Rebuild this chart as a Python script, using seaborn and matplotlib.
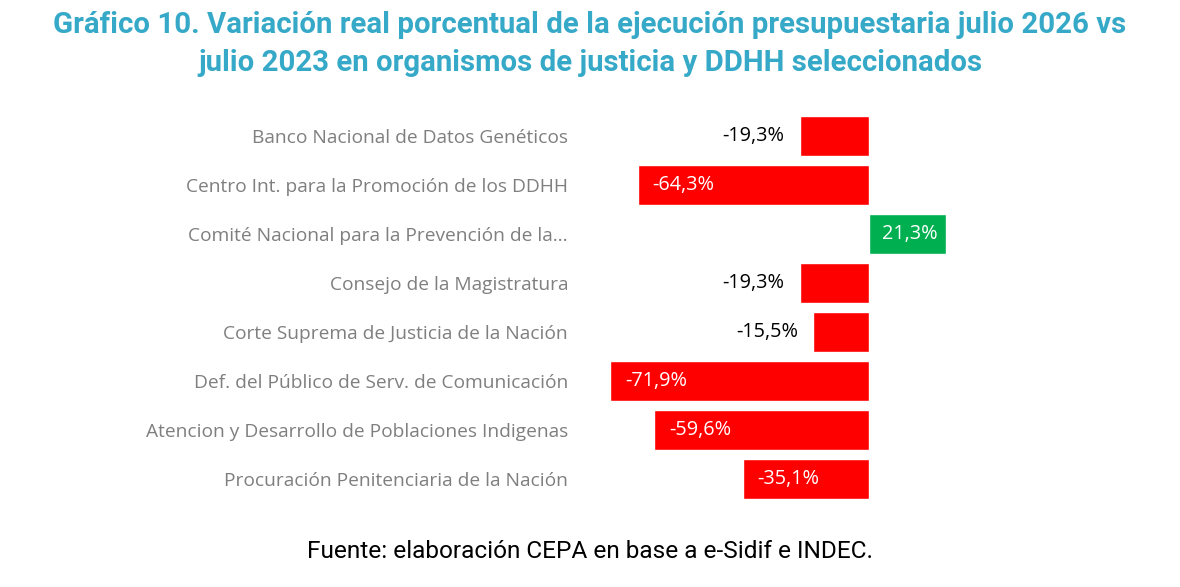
import numpy as np
import pandas as pd
import matplotlib
matplotlib.use('Agg')
import matplotlib.pyplot as plt
import seaborn as sns

# ============================================
# Data
# ============================================
CATEGORIES = [
    'Banco Nacional de Datos Genéticos',
    'Centro Int. para la Promoción de los DDHH',
    'Comité Nacional para la Prevención de la…',
    'Consejo de la Magistratura',
    'Corte Suprema de Justicia de la Nación',
    'Def. del Público de Serv. de Comunicación',
    'Atencion y Desarrollo de Poblaciones Indigenas',
    'Procuración Penitenciaria de la Nación',
]
VALUES = [-19.3, -64.3, 21.3, -19.3, -15.5, -71.9, -59.6, -35.1]

TITLE = ('Gráfico 10. Variación real porcentual de la ejecución presupuestaria julio 2026 vs\n'
         'julio 2023 en organismos de justicia y DDHH seleccionados')
SOURCE = 'Fuente: elaboración CEPA en base a e-Sidif e INDEC.'

RED = '#FF0000'
GREEN = '#00B050'
TITLE_COLOR = '#35A9C7'
LABEL_COLOR = '#7F7F7F'

df = pd.DataFrame({'organismo': CATEGORIES, 'variacion': VALUES})
df['signo'] = np.where(df['variacion'] < 0, 'neg', 'pos')

sns.set_theme(style='white')
plt.rcParams['font.family'] = ['Open Sans', 'DejaVu Sans']

W, H = 1180, 587
fig = plt.figure(figsize=(W / 100, H / 100), dpi=100)

# axes placed so that zero sits at x=869 px and 1% = 3.6 px
px_per_unit = 3.6
ax_left, ax_right = 580, 960
ax_top, ax_bottom = 111.5, 503.5
ax = fig.add_axes([ax_left / W, 1 - ax_bottom / H,
                   (ax_right - ax_left) / W, (ax_bottom - ax_top) / H])

sns.barplot(data=df, x='variacion', y='organismo', hue='signo',
            palette={'neg': RED, 'pos': GREEN}, dodge=False, width=0.8,
            orient='h', legend=False, ax=ax, saturation=1)

ax.set_xlim((ax_left - 869) / px_per_unit, (ax_right - 869) / px_per_unit)
ax.set_ylim(len(CATEGORIES) - 0.5, -0.5)
ax.set_xticks([])
ax.set_xlabel('')
ax.set_ylabel('')
for s in ax.spines.values():
    s.set_visible(False)
ax.tick_params(axis='y', length=0, pad=8.6, labelsize=13.8, labelcolor=LABEL_COLOR)

# value labels
gap = 15 / px_per_unit
for i, v in enumerate(VALUES):
    txt = f'{v:.1f}'.replace('.', ',') + '%'
    if v >= 0:
        ax.text(v - 8 / px_per_unit, i, txt, ha='right', va='center',
                color='white', fontsize=14.3)
    elif v > -30:
        ax.text(v - gap, i, txt, ha='right', va='center',
                color='black', fontsize=14.3)
    else:
        ax.text(v + gap, i, txt, ha='left', va='center',
                color='white', fontsize=14.3)

fig.text(0.5, 1 - 44 / H, TITLE, ha='center', va='center', color=TITLE_COLOR,
         fontsize=21.2, fontweight='bold', family=['Roboto', 'DejaVu Sans'],
         linespacing=1.45)
fig.text(0.5, 1 - 551 / H, SOURCE, ha='center', va='center', color='black',
         fontsize=17.6, family=['Roboto', 'DejaVu Sans'])

fig.savefig('out.png', dpi=100, facecolor='white')
